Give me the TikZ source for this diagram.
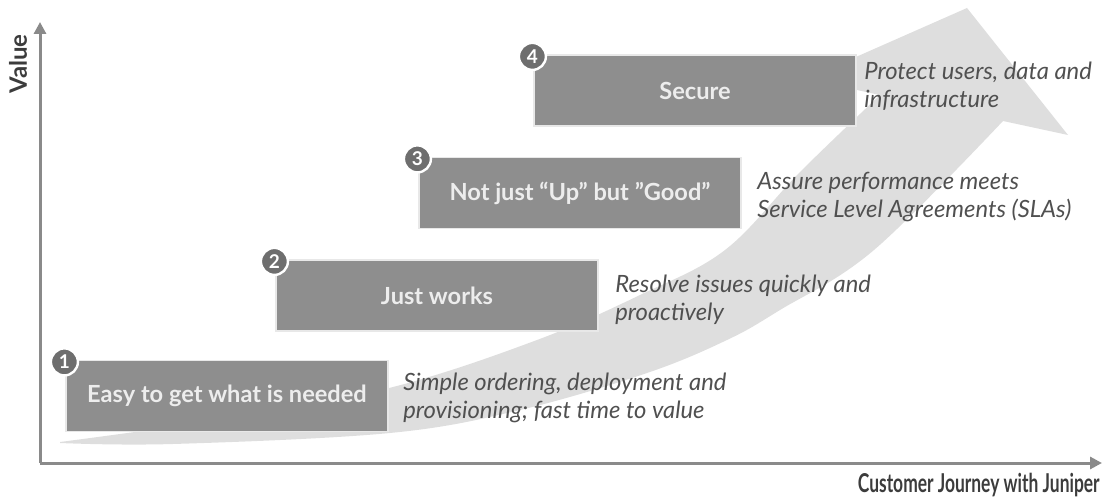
\documentclass[tikz,border=0pt]{standalone}
\usepackage{fontspec}
\setmainfont{Lato}
\usetikzlibrary{arrows.meta}
\definecolor{kasten}{HTML}{8E8E8E}
\definecolor{pont}{HTML}{6E6E6E}
\definecolor{szoveg}{HTML}{505050}
\definecolor{felirat}{HTML}{3C3C3C}
\definecolor{tengelyszin}{HTML}{8A8A8A}
\definecolor{nyilszin}{HTML}{DEDEDE}

\begin{document}
\begin{tikzpicture}[x=0.5pt,y=-0.5pt,>={Triangle[length=6pt,width=6pt]},
lepcso/.style={rectangle,minimum width=161pt,minimum height=35.5pt,inner sep=0pt,fill=kasten,draw=white!80!kasten,line width=.6pt,text=white!93!black,font=\bfseries\fontsize{11.8}{13}\selectfont},
szam/.style={circle,minimum size=13.5pt,inner sep=0pt,fill=pont,draw=white,line width=1.2pt,text=white,font=\bfseries\fontsize{9.5}{9.5}\selectfont},
leiras/.style={anchor=west,align=left,inner sep=0pt,text=szoveg,font=\itshape\fontsize{11.9}{14}\selectfont}]

\useasboundingbox (0,0) rectangle (1104,497);

% the big arrow behind the steps
\fill[nyilszin] plot[smooth,tension=.6] coordinates {(60,442) (230,418) (393,387) (537,340) (640,295) (725,250) (800,172) (880,95)}
 -- (806,79) -- (967,8) -- (1068,135) -- (1003,121)
 -- plot[smooth,tension=.6] coordinates {(1003,121) (874,250) (780,310) (727,340) (647,373) (520,410) (390,433) (173,444) (60,443)} -- cycle;

\node[lepcso](l1) at (227,396){Easy to get what is needed};
\node[lepcso](l2) at (437,295.5){Just works};
\node[lepcso](l3) at (580,193){Not just “Up” but ”Good”};
\node[lepcso](l4) at (695,90.5){Secure};

\node[szam](n1) at ([shift={(-1,2)}]l1.north west){1};
\node[szam](n2) at ([shift={(-1,2)}]l2.north west){2};
\node[szam](n3) at ([shift={(-1,2)}]l3.north west){3};
\node[szam](n4) at ([shift={(-1,2)}]l4.north west){4};

\node[leiras](d1) at (403,398){Simple ordering, deployment and\\provisioning; fast time to value};
\node[leiras](d2) at (615,299.5){Resolve issues quickly and\\proactively};
\node[leiras](d3) at (757,197){Assure performance meets\\Service Level Agreements (SLAs)};
\node[leiras](d4) at (864,86.5){Protect users, data and\\infrastructure};

\coordinate (o) at (40,463);
\coordinate (ytop) at (40,22);
\coordinate (xend) at (1102,463);

\begin{scope}[->, line width=1.5pt, draw=tengelyszin]
\draw (o)--(ytop);
\draw (o)--(xend);
\end{scope}

\node[rotate=90, text=felirat, font=\bfseries\fontsize{12}{13}\selectfont](value) at (18,64){Value};
\node[anchor=east, inner sep=0pt, text=felirat, font=\bfseries\fontsize{13}{14}\selectfont](journey) at (1100,485){\scalebox{.67}[1]{Customer Journey with Juniper}};
\end{tikzpicture}
\end{document}
